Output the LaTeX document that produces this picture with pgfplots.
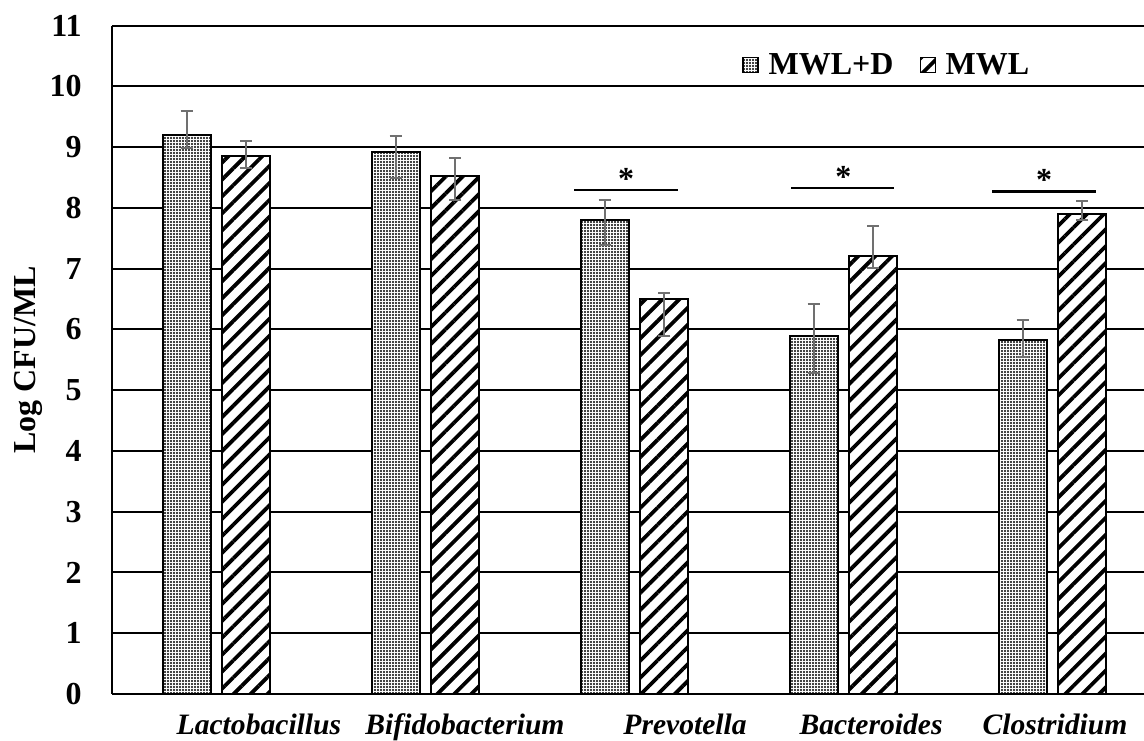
\documentclass[border=0pt]{standalone}
\usepackage{pgfplots}
\pgfplotsset{compat=1.18}
\usepackage{fontspec}
\setmainfont{Liberation Serif}
\usetikzlibrary{patterns.meta}
\definecolor{errgray}{RGB}{112,112,112}
\begin{document}
\begin{tikzpicture}[font=\fontsize{16}{19}\selectfont\bfseries]
\begin{axis}[
  scale only axis,
  width=516pt, height=334.15pt,
  xmin=-0.5, xmax=4.438,
  ymin=0, ymax=11,
  ytick={0,1,...,11},
  xtick={0.203,1.189,2.242,3.132,4.012},
  xticklabels={\textit{Lactobacillus},\textit{Bifidobacterium},\textit{Prevotella},\textit{Bacteroides},\textit{Clostridium}},
  xticklabel style={anchor=base, yshift=-20.5pt, inner sep=0pt, font=\fontsize{14.8}{17}\selectfont\bfseries},
  yticklabel style={anchor=east, xshift=-15pt, inner sep=0pt},
  /pgf/number format/assume math mode=true,
  major tick length=0pt,
  axis x line*=bottom, axis y line*=left,
  axis line style={line width=1pt, black},
  ymajorgrids, major grid style={line width=1pt, black},
  ylabel={Log CFU/ML},
  ylabel style={at={(axis description cs:0,0.5)}, anchor=center, yshift=41.75pt},
  ybar, bar width=0.23,
  error bars/y dir=both, error bars/y explicit,
  error bars/error bar style={line width=1pt, errgray},
  error bars/error mark options={rotate=90, mark size=3pt, line width=1pt, errgray},
  legend style={at={(axis description cs:0.6105,0.941)}, anchor=west, draw=none, fill=none, inner sep=0pt,
     legend columns=2, font=\fontsize{16}{19}\selectfont\bfseries,
     /tikz/every odd column/.append style={column sep=3pt},
     /tikz/every even column/.append style={column sep=11pt}},
  legend cell align=left,
  legend image code/.code={\draw[#1, line width=0.6pt] (0pt,-3.75pt) rectangle (7.5pt,3.75pt);},
]
\addplot[bar shift=-0.143, draw=black, line width=1pt, fill=white,
  postaction={pattern={Dots[distance=1.5pt, radius=0.55pt]}}]
  coordinates {
  (0,9.20) += (0,0.40) -= (0,0.21)
  (1,8.92) += (0,0.26) -= (0,0.42)
  (2,7.80) += (0,0.33) -= (0,0.41)
  (3,5.89) += (0,0.53) -= (0,0.60)
  (4,5.83) += (0,0.33) -= (0,0.29)
  };
\addlegendentry{MWL+D}
\addplot[bar shift=0.143, draw=black, line width=1pt, fill=white,
  postaction={pattern={Lines[angle=45, distance=6pt, line width=1.9pt]}}]
  coordinates {
  (0,8.86) += (0,0.24) -= (0,0.21)
  (1,8.53) += (0,0.30) -= (0,0.40)
  (2,6.50) += (0,0.10) -= (0,0.61)
  (3,7.21) += (0,0.49) -= (0,0.20)
  (4,7.90) += (0,0.21) -= (0,0.10)
  };
\addlegendentry{MWL}
\addplot[sharp plot, no marks, line width=1.2pt, black, forget plot] coordinates {(1.711,8.30) (2.208,8.30)};
\addplot[sharp plot, no marks, line width=1.2pt, black, forget plot] coordinates {(2.749,8.33) (3.242,8.33)};
\addplot[sharp plot, no marks, line width=1.2pt, black, forget plot] coordinates {(3.711,8.27) (4.208,8.27)};
\node[anchor=base, inner sep=0pt] at (axis cs:1.96,8.31) {*};
\node[anchor=base, inner sep=0pt] at (axis cs:3.00,8.34) {*};
\node[anchor=base, inner sep=0pt] at (axis cs:3.96,8.28) {*};
\end{axis}
\pgfresetboundingbox
\path[use as bounding box] ([xshift=-56pt, yshift=-23.5pt]current axis.south west) rectangle ([yshift=12.85pt]current axis.north east);
\end{tikzpicture}
\end{document}
